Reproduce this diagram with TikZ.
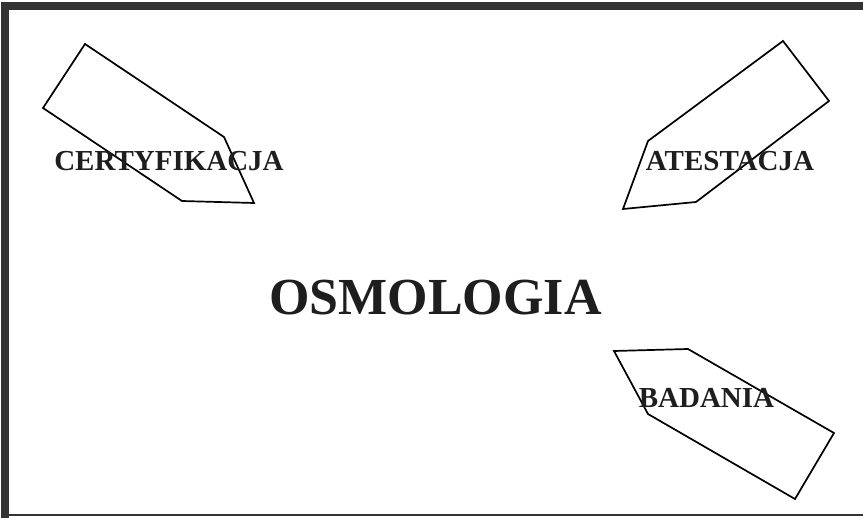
\documentclass[tikz,border=0pt]{standalone}
\usepackage{fontspec}
\setmainfont{Liberation Serif}
\definecolor{framegray}{HTML}{333333}
\definecolor{textgray}{HTML}{1E1E1E}
\begin{document}
\begin{tikzpicture}[x=1pt,y=-1pt,
  tag/.style={draw=black,line width=1.7pt,line join=miter},
  label/.style={anchor=base,inner sep=0pt,text=textgray,font=\bfseries\fontsize{29}{29}\selectfont},
  title/.style={anchor=base,inner sep=0pt,text=textgray,font=\bfseries\fontsize{52}{52}\selectfont}]
\useasboundingbox (0,0) rectangle (863,518);
\fill[white] (0,0) rectangle (863,518);
% frame
\fill[framegray] (1,2) rectangle (9,518);
\fill[framegray] (1,2) rectangle (863,10);
\fill[framegray] (1,514.5) rectangle (863,516.5);
% tags
\draw[tag] (85,44) -- (224,137) -- (254,203) -- (182,201) -- (43,108) -- cycle;
\draw[tag] (783,41) -- (829,101) -- (696,202) -- (623,209) -- (648,141) -- cycle;
\draw[tag] (614,351) -- (688,349) -- (834,433) -- (795,499) -- (648,414) -- cycle;
% labels
\node[label] (cert) at (169,171) {CERTYFIKACJA};
\node[label] (atest) at (730,171) {ATESTACJA};
\node[label] (bad) at (706.5,408) {BADANIA};
\node[title] (osm) at (435.5,315) {OSMOLOGIA};
\end{tikzpicture}
\end{document}
